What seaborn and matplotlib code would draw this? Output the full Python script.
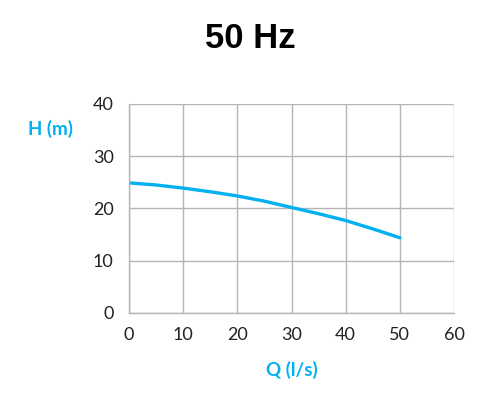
import numpy as np
import pandas as pd
import seaborn as sns
import matplotlib.pyplot as plt

flow = [0, 5, 10, 15, 20, 25, 30, 35, 40, 45, 50]
head = [24.9, 24.5, 23.9, 23.2, 22.4, 21.4, 20.2, 19.0, 17.7, 16.1, 14.4]

x_ticks = [0, 10, 20, 30, 40, 50, 60]
y_ticks = [0, 10, 20, 30, 40]

BLUE = '#00B0F0'
GRID = '#B5B5B5'

sns.set_theme(style='white')
plt.rcParams['font.family'] = ['Lato', 'DejaVu Sans']

df = pd.DataFrame({'Q': flow, 'H': head})

fig = plt.figure(figsize=(5, 3.96), dpi=100)
ax = fig.add_axes([0.258, 0.2096, 0.65, 0.5278])

sns.lineplot(data=df, x='Q', y='H', ax=ax, color=BLUE, linewidth=2.4)

ax.set_xlim(0, 60)
ax.set_ylim(0, 40)
ax.set_xticks(x_ticks)
ax.set_yticks(y_ticks)
ax.grid(True, color=GRID, linewidth=1)
ax.tick_params(axis='both', direction='out', length=5, width=1, color=GRID,
               labelsize=13, labelcolor='#222222', pad=6)
ax.tick_params(axis='x', pad=5)
for side in ['top', 'right']:
    ax.spines[side].set_visible(False)
for side in ['left', 'bottom']:
    ax.spines[side].set_color(GRID)
    ax.spines[side].set_linewidth(1)

ax.set_xlabel('')
ax.set_ylabel('')
fig.text(0.583, 0.066, 'Q (l/s)', ha='center', va='center', color=BLUE,
         fontsize=13.5, fontweight='bold')
fig.text(0.101, 0.674, 'H (m)', ha='center', va='center', color=BLUE,
         fontsize=13.5, fontweight='bold')
fig.text(0.5, 0.904, '50 Hz', ha='center', va='center', color='black',
         fontsize=25, fontweight='bold', family=['Liberation Sans', 'DejaVu Sans'])

fig.savefig('out.png', dpi=100, facecolor='white')
